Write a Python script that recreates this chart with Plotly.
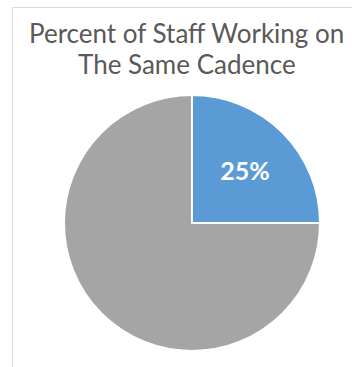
import plotly.graph_objects as go

# Share of staff on the same cadence
categories = ["Same cadence", "Other"]
values = [25, 75]
colors = ["#5b9bd5", "#a5a5a5"]
title_lines = ["Percent of Staff Working on", "The Same Cadence"]

W, H = 352, 367

fig = go.Figure(
    go.Pie(
        labels=categories,
        values=values,
        sort=False,
        direction="clockwise",
        rotation=0,
        marker=dict(colors=colors, line=dict(color="white", width=2)),
        texttemplate=["%{percent:.0%}", ""],
        textposition="inside",
        insidetextfont=dict(family="Lato", size=25, color="white", weight="bold"),
        hoverinfo="label+percent",
        showlegend=False,
        domain=dict(x=[64 / W, 320 / W], y=[1 - 351 / H, 1 - 95 / H]),
    )
)

annotations = [
    dict(text=title_lines[0], x=186 / W, y=1 - 33 / H),
    dict(text=title_lines[1], x=187 / W, y=1 - 64 / H),
]
for a in annotations:
    a.update(xref="paper", yref="paper", xanchor="center", yanchor="middle",
             showarrow=False, font=dict(family="Lato", size=26, color="#595959"))

fig.update_layout(
    width=W,
    height=H,
    margin=dict(l=0, r=0, t=0, b=0),
    paper_bgcolor="white",
    plot_bgcolor="white",
    annotations=annotations,
    shapes=[
        dict(type="rect", xref="paper", yref="paper",
             x0=12.5 / W, x1=1.2, y0=-0.2, y1=1 - 7.5 / H,
             line=dict(color="#d9d9d9", width=1)),
    ],
)

fig.write_html("out.html")
